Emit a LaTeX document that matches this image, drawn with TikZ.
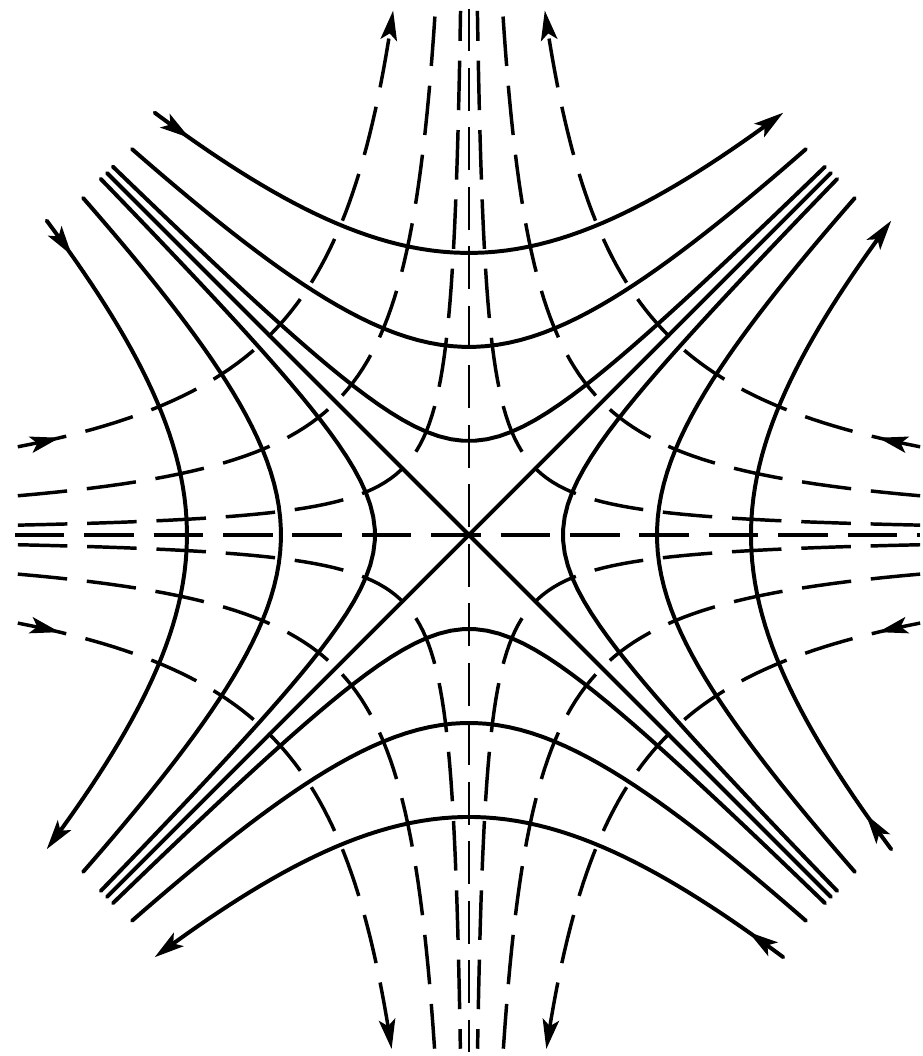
\documentclass[tikz,border=0pt]{standalone}
\usetikzlibrary{arrows.meta,decorations.markings}

\begin{document}
\begin{tikzpicture}[
  stream/.style={line width=1.2pt,line cap=round},
  potential/.style={line width=1.05pt,dash pattern=on 15pt off 6pt},
  axisline/.style={line width=0.7pt,dash pattern=on 13pt off 5pt},
  tipout/.style={-{Stealth[length=9pt,width=5pt,inset=2pt]}},
  tipin/.style={postaction={decorate},decoration={markings,
    mark=at position 13pt with {\arrow{Stealth[length=9pt,width=5pt,inset=2pt]}}}},
  arr1/.style={}, arr2/.style={}, arr3/.style={tipout,tipin}]
  \useasboundingbox (-4.989,-5.543) rectangle (4.830,5.691);

  \foreach \a/\rad in {1/5.45,2/5.45,3/5.6} {
    \pgfmathsetmacro{\w}{sqrt((\rad*\rad-\a*\a)/2)}
    \draw[stream,arr\a] plot[domain=-\w:\w,samples=60] ({\x},{sqrt(\x*\x+\a*\a)});
    \draw[stream,arr\a] plot[domain=-\w:\w,samples=60] ({sqrt(\x*\x+\a*\a)},{\x});
    \draw[stream,arr\a] plot[domain=\w:-\w,samples=60] ({\x},{-sqrt(\x*\x+\a*\a)});
    \draw[stream,arr\a] plot[domain=\w:-\w,samples=60] ({-sqrt(\x*\x+\a*\a)},{\x});
  }
  \coordinate (ul) at (-3.85,3.85);
  \coordinate (ur) at (3.85,3.85);
  \coordinate (ll) at (-3.85,-3.85);
  \coordinate (lr) at (3.85,-3.85);
  \draw[stream] (ul) -- (lr);
  \draw[stream] (ll) -- (ur);

  \foreach \sx in {-1,1} {
    \foreach \sy in {-1,1} {
      \foreach \k in {1,2,3} {
        \pgfmathsetmacro{\s}{sqrt(\k*\k/2)}
        \pgfmathsetmacro{\yedge}{\sy>0 ? 5.58 : 5.47}
        \pgfmathsetmacro{\ta}{-ln(4.8/\s)}
        \pgfmathsetmacro{\tb}{ln(\yedge/\s)}
        \draw[potential,arr\k] plot[domain=\ta:\tb,samples=60]
          ({\sx*\s*exp(-(\x))},{\sy*\s*exp(\x)});
      }
    }
  }
  \coordinate (west) at (-4.83,0);
  \coordinate (east) at (4.8,0);
  \coordinate (north) at (0,5.6);
  \coordinate (south) at (0,-5.5);
  \draw[potential,line width=1.2pt] (west) -- (east);
  \draw[axisline] (north) -- (south);
\end{tikzpicture}
\end{document}
